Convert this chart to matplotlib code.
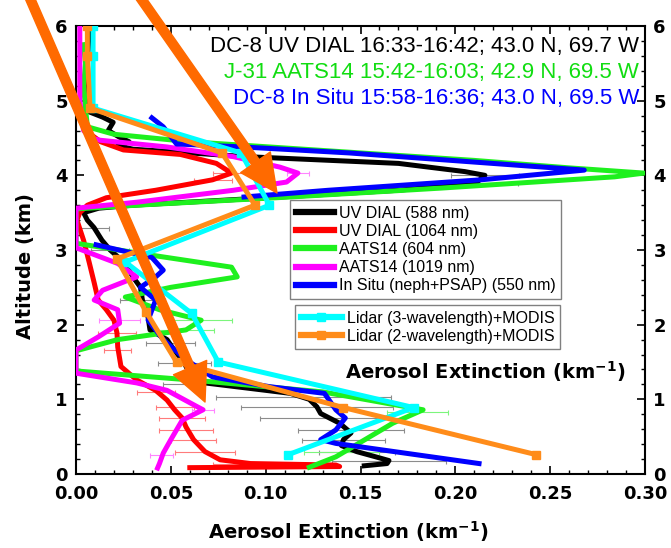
import matplotlib
matplotlib.use("Agg")
import numpy as np
import matplotlib.pyplot as plt
from matplotlib.patches import FancyArrowPatch
from matplotlib.ticker import MultipleLocator, FormatStrFormatter

plt.rcParams['font.family'] = ['Liberation Sans', 'DejaVu Sans']
plt.rcParams['mathtext.fontset'] = 'custom'
plt.rcParams['mathtext.rm'] = 'DejaVu Sans'
plt.rcParams['mathtext.bf'] = 'DejaVu Sans:bold'

# ---- profiles: extinction (km^-1) versus altitude (km) ----
dial588_alt = [6.0, 5.5, 5.0, 4.9, 4.85, 4.78, 4.71, 4.6, 4.51, 4.45, 4.4, 4.35, 4.25, 4.16,
               4.05, 4.0, 3.9, 3.8, 3.67, 3.6, 3.56, 3.5, 3.4, 3.3, 3.13, 3.0, 2.82, 2.64,
               2.5, 2.33, 2.1, 1.93, 1.8, 1.65, 1.53, 1.35, 1.22, 1.08, 1.0, 0.9, 0.81,
               0.68, 0.55, 0.46, 0.38, 0.3, 0.23, 0.18, 0.14, 0.11]
dial588_ext = [0.007, 0.006, 0.007, 0.006, 0.007, 0.014, 0.0196, 0.017, 0.023, 0.028, 0.022,
               0.03, 0.09, 0.17, 0.205, 0.2156, 0.211, 0.17, 0.08, 0.03, 0.012, 0.004, 0.006,
               0.0095, 0.0137, 0.018, 0.026, 0.03, 0.034, 0.035, 0.038, 0.039, 0.048, 0.052,
               0.056, 0.06, 0.068, 0.113, 0.123, 0.127, 0.129, 0.139, 0.145, 0.141, 0.14,
               0.148, 0.158, 0.165, 0.164, 0.152]

dial1064_alt = [4.8, 4.6, 4.45, 4.34, 4.28, 4.16, 4.03, 3.94, 3.8, 3.7, 3.6, 3.5, 3.4, 3.13,
                2.83, 2.56, 2.33, 2.2, 2.06, 1.89, 1.7, 1.44, 1.26, 1.12, 0.99, 0.86, 0.75,
                0.63, 0.46, 0.3, 0.19, 0.14, 0.12, 0.1, 0.085]
dial1064_ext = [0.003, 0.005, 0.013, 0.025, 0.055, 0.074, 0.082, 0.072, 0.042, 0.016, 0.006,
                0.002, 0.0005, 0.004, 0.007, 0.0096, 0.0117, 0.016, 0.02, 0.0216, 0.022,
                0.0237, 0.032, 0.042, 0.048, 0.052, 0.056, 0.058, 0.062, 0.068, 0.076,
                0.092, 0.137, 0.139, 0.06]

aats604_alt = [5.75, 5.5, 5.2, 4.9, 4.65, 4.55, 4.5, 4.45, 4.35, 4.2, 4.1, 4.03, 3.98, 3.83,
               3.71, 3.6, 3.55, 3.3, 3.09, 2.93, 2.77, 2.64, 2.5, 2.37, 2.2, 2.06, 1.93,
               1.8, 1.65, 1.38, 1.25, 1.1, 0.86, 0.68, 0.41, 0.23, 0.09]
aats604_ext = [0.004, 0.005, 0.004, 0.005, 0.006, 0.02, 0.04, 0.06, 0.12, 0.21, 0.26, 0.2995,
               0.284, 0.193, 0.113, 0.032, 0.0, 0.0, 0.0, 0.04, 0.082, 0.085, 0.05, 0.026,
               0.044, 0.066, 0.058, 0.022, 0.0, 0.0, 0.065, 0.13, 0.183, 0.167, 0.149,
               0.137, 0.123]

aats1019_alt = [6.0, 5.5, 5.0, 4.8, 4.6, 4.5, 4.47, 4.38, 4.25, 4.11, 4.03, 3.91, 3.8, 3.64,
                3.56, 3.3, 3.03, 2.82, 2.64, 2.46, 2.33, 2.2, 2.02, 1.84, 1.66, 1.35, 1.22,
                1.12, 0.9, 0.86, 0.72, 0.46, 0.28, 0.14, 0.08]
aats1019_ext = [0.002, 0.002, 0.002, 0.003, 0.004, 0.008, 0.0127, 0.048, 0.083, 0.1075,
                0.117, 0.111, 0.083, 0.032, 0.0, 0.0, 0.0, 0.022, 0.032, 0.014, 0.0096,
                0.022, 0.023, 0.012, 0.0, 0.0, 0.032, 0.048, 0.064, 0.067, 0.056, 0.05,
                0.046, 0.044, 0.043]

insitu_alt = [4.77, 4.65, 4.42, 4.38, 4.3, 4.07, 3.94, 3.8, 3.71, np.nan,
              3.07, 2.9, 2.73, 2.64, 2.5, 2.33, 2.06, 1.8, 1.53, 1.3, 1.17, 1.08, 0.86,
              0.75, 0.59, 0.46, 0.41, 0.14]
insitu_ext = [0.040, 0.046, 0.053, 0.088, 0.144, 0.268, 0.2135, 0.133, 0.0886, np.nan,
              0.0106, 0.040, 0.046, 0.042, 0.034, 0.042, 0.038, 0.046, 0.058, 0.072,
              0.102, 0.131, 0.137, 0.142, 0.137, 0.129, 0.137, 0.2125]

lidar3_alt = [6.0, 5.6, 4.9, 4.3, 3.6, 2.84, 2.15, 1.5, 0.89, 0.26]
lidar3_ext = [0.009, 0.009, 0.009, 0.087, 0.102, 0.026, 0.061, 0.075, 0.178, 0.112]

lidar2_alt = [6.0, 5.6, 4.9, 4.3, 3.6, 2.88, 2.17, 1.5, 0.89, 0.26]
lidar2_ext = [0.006, 0.006, 0.0074, 0.077, 0.0944, 0.0216, 0.037, 0.053, 0.141, 0.2425]

# ---- uncertainty bars (altitude, centre value, half width) ----
dial588_err_alt = [4.0, 3.9, 3.3, 3.0, 2.33, 1.75, 1.49, 1.2, 1.03, 0.9, 0.75, 0.59, 0.46, 0.3, 0.17]
dial588_err_ext = [0.2156, 0.211, 0.0095, 0.018, 0.035, 0.05, 0.057, 0.066, 0.12, 0.127, 0.135, 0.145, 0.141, 0.148, 0.165]
dial588_err = [0.018, 0.022, 0.008, 0.01, 0.012, 0.013, 0.014, 0.02, 0.046, 0.04, 0.038, 0.028, 0.022, 0.02, 0.03]

dial1064_err_alt = [4.03, 3.94, 1.89, 1.66, 1.1, 0.9, 0.75, 0.59, 0.46, 0.3, 0.14]
dial1064_err_ext = [0.082, 0.072, 0.0216, 0.022, 0.042, 0.052, 0.056, 0.058, 0.062, 0.068, 0.092]
dial1064_err = [0.01, 0.01, 0.01, 0.007, 0.01, 0.01, 0.012, 0.014, 0.012, 0.016, 0.02]

aats604_err_alt = [2.06, 1.93, 0.83, 0.3]
aats604_err_ext = [0.066, 0.058, 0.18, 0.14]
aats604_err = [0.016, 0.015, 0.016, 0.02]

aats1019_err_alt = [4.03, 2.06, 0.86, 0.25]
aats1019_err_ext = [0.117, 0.023, 0.067, 0.045]
aats1019_err = [0.006, 0.011, 0.006, 0.006]

title_lines = ["DC-8 UV DIAL 16:33-16:42; 43.0 N, 69.7 W",
               "J-31 AATS14 15:42-16:03; 42.9 N, 69.5 W",
               "DC-8 In Situ 15:58-16:36; 43.0 N, 69.5 W"]

BLACK, RED, GREEN, MAGENTA, BLUE = '#000000', '#ff0000', '#1ef01e', '#ff00ff', '#0000ff'
CYAN, ORANGE = '#00ffff', '#ff8c1a'
HEAVY = dict(family='DejaVu Sans', fontweight='bold')

W, H = 671, 548
fig = plt.figure(figsize=(W / 100, H / 100), dpi=100)
ax = fig.add_axes([76 / W, 1 - 474 / H, 569 / W, 448 / H])

ebar = dict(fmt='none', elinewidth=0.8, capsize=1.8, capthick=0.8, zorder=1)
ax.errorbar(dial588_err_ext, dial588_err_alt, xerr=dial588_err, ecolor='#8c8c8c', **ebar)
ax.errorbar(dial1064_err_ext, dial1064_err_alt, xerr=dial1064_err, ecolor='#ff7b7b', **ebar)
ax.errorbar(aats604_err_ext, aats604_err_alt, xerr=aats604_err, ecolor='#7cf57c', **ebar)
ax.errorbar(aats1019_err_ext, aats1019_err_alt, xerr=aats1019_err, ecolor='#ff85ff', **ebar)

lw = 3.6
h1 = []
h1 += ax.plot(dial588_ext, dial588_alt, color=BLACK, lw=lw, label='UV DIAL (588 nm)', zorder=3)
h1 += ax.plot(dial1064_ext, dial1064_alt, color=RED, lw=lw, label='UV DIAL (1064 nm)', zorder=3)
h1 += ax.plot(aats604_ext, aats604_alt, color=GREEN, lw=lw, label='AATS14 (604 nm)', zorder=3)
h1 += ax.plot(aats1019_ext, aats1019_alt, color=MAGENTA, lw=lw, label='AATS14 (1019 nm)', zorder=3)
h1 += ax.plot(insitu_ext, insitu_alt, color=BLUE, lw=lw, label='In Situ (neph+PSAP) (550 nm)', zorder=3)
h2 = []
h2 += ax.plot(lidar3_ext, lidar3_alt, color=CYAN, lw=lw, marker='s', ms=5.5,
              label='Lidar (3-wavelength)+MODIS', zorder=4)
h2 += ax.plot(lidar2_ext, lidar2_alt, color=ORANGE, lw=lw, marker='s', ms=5.5,
              label='Lidar (2-wavelength)+MODIS', zorder=5)

ax.set_xlim(0, 0.30)
ax.set_ylim(0, 6)
ax.xaxis.set_major_locator(MultipleLocator(0.05))
ax.xaxis.set_minor_locator(MultipleLocator(0.01))
ax.yaxis.set_major_locator(MultipleLocator(1))
ax.yaxis.set_minor_locator(MultipleLocator(0.2))
ax.xaxis.set_major_formatter(FormatStrFormatter('%.2f'))
ax.tick_params(which='both', direction='in', top=True, right=True, labelright=True)
ax.tick_params(which='major', length=5.5, width=1.2, labelsize=13)
ax.tick_params(which='minor', length=3, width=1.0)
ax.tick_params(axis='x', which='major', pad=8)
ax.tick_params(axis='y', which='major', pad=6)
for lab in ax.get_xticklabels() + ax.get_yticklabels() + ax.yaxis.get_ticklabels(which='major'):
    lab.set_fontweight('bold')
    lab.set_family('DejaVu Sans')
for lab in ax.yaxis.get_majorticklabels():
    pass
for t in ax.yaxis.get_major_ticks():
    t.label2.set_fontweight('bold')
    t.label2.set_family('DejaVu Sans')
for sp in ax.spines.values():
    sp.set_linewidth(1.5)

ax.set_xlabel(r'Aerosol Extinction (km$^{\mathbf{-1}}$)', fontsize=14, **HEAVY)
ax.xaxis.set_label_coords(0.478, -0.1)
ax.set_ylabel('Altitude (km)', fontsize=14, **HEAVY)
ax.yaxis.set_label_coords(-0.072, 0.464)

for txt, col, yy in zip(title_lines, [BLACK, '#11dd11', BLUE], [0.955, 0.897, 0.839]):
    ax.text(0.99, yy, txt, color=col, fontsize=16, ha='right', va='center', transform=ax.transAxes)

ax.text(0.719, 0.228, r'Aerosol Extinction (km$^{\mathbf{-1}}$)', fontsize=14,
        ha='center', va='center', transform=ax.transAxes, **HEAVY)

leg_kw = dict(fontsize=11.5, frameon=True, fancybox=False, framealpha=1, edgecolor='#808080',
              borderaxespad=0, handletextpad=0.3, labelspacing=0.2, borderpad=0.35, loc='upper left')
leg1 = ax.legend(handles=h1, bbox_to_anchor=((290 - 76) / 569, (474 - 200) / 448),
                 handlelength=2.4, **leg_kw)
leg1.get_frame().set_linewidth(1.0)
ax.add_artist(leg1)
leg2 = ax.legend(handles=h2, bbox_to_anchor=((295 - 76) / 569, (474 - 305) / 448),
                 handlelength=2.6, **leg_kw)
leg2.get_frame().set_linewidth(1.0)
for lg in (leg1, leg2):
    for ln in lg.get_lines():
        ln.set_linewidth(4.5)


def fig_xy(px, py):
    return (px / W, 1 - py / H)


arrow_style = 'simple,head_length=27,head_width=26,tail_width=6.5'
for start, tip in [((22, -20), (205, 402)), ((128, -20), (277, 193))]:
    fig.add_artist(FancyArrowPatch(fig_xy(*start), fig_xy(*tip), transform=fig.transFigure,
                                   arrowstyle=arrow_style, mutation_scale=1, color='#ff6a00',
                                   shrinkA=0, shrinkB=0, zorder=20))

fig.savefig('out.png', dpi=100)
